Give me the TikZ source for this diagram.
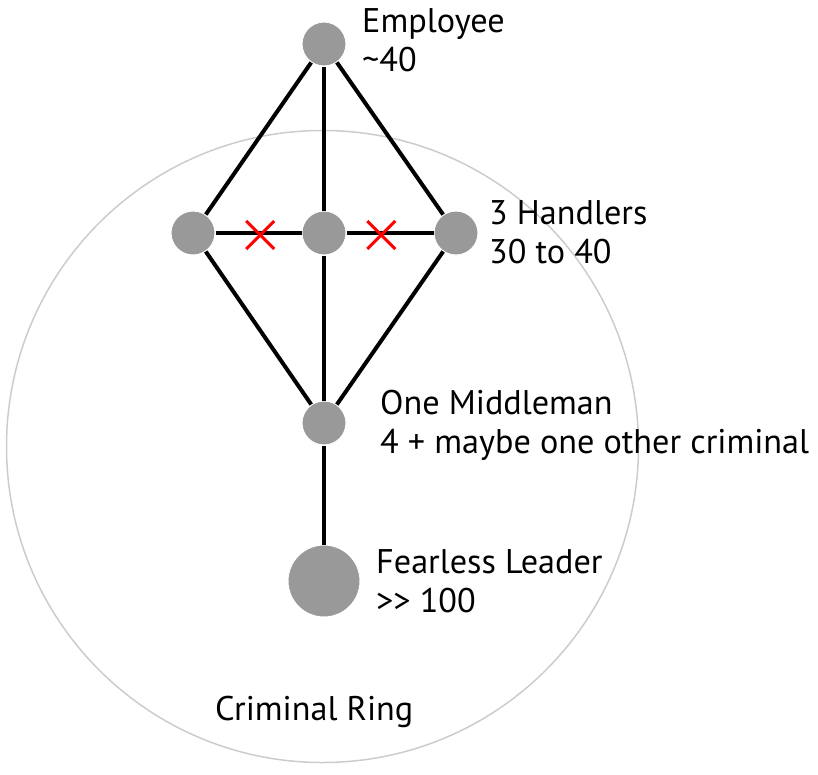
\documentclass[tikz,border=0pt]{standalone}
\usepackage{fontspec}
\setmainfont{PT Sans}
\usepackage{tikz}
\usetikzlibrary{shapes.misc}

\definecolor{nodegray}{HTML}{999999}
\definecolor{ringgray}{HTML}{CCCCCC}

\begin{document}
\begin{tikzpicture}[x=1pt,y=-1pt,
  person/.style={circle,fill=nodegray,draw=white,line width=1pt,inner sep=0pt,minimum size=44pt},
  link/.style={line width=4pt},
  cut/.style={cross out,draw=red,line width=3pt,inner sep=0pt,minimum size=25pt},
  lbl/.style={anchor=base west,align=left,inner sep=0pt,font=\fontsize{34.2}{39}\selectfont}]
  \useasboundingbox (0,0) rectangle (818,774);
  \draw[ringgray,line width=1.5pt] (322.5,446.5) circle [radius=316pt];

  \node[person] (emp) at (324,44) {};
  \node[person] (hand-1) at (193,233) {};
  \node[person] (hand-2) at (324,233) {};
  \node[person] (hand-3) at (456,233) {};
  \node[person] (mid) at (324,423) {};
  \node[person,minimum size=72pt] (lead) at (324,581) {};

  \draw[link] (emp) -- (hand-1);
  \draw[link] (emp) -- (hand-2);
  \draw[link] (emp) -- (hand-3);
  \draw[link] (hand-1) -- node[cut,pos=0.52,yshift=-2pt] {} (hand-2);
  \draw[link] (hand-2) -- node[cut,pos=0.4,yshift=-2pt] {} (hand-3);
  \draw[link] (hand-1) -- (mid);
  \draw[link] (hand-2) -- (mid);
  \draw[link] (hand-3) -- (mid);
  \draw[link] (mid) -- (lead);

  % base anchor sits on the last line
  \node[lbl] (emp-txt) at (362,71) {Employee\\\textasciitilde40};
  \node[lbl] (hand-txt) at (489,263) {3 Handlers\\30 to 40};
  \node[lbl] (mid-txt) at (380,453) {One Middleman\\4 + maybe one other criminal};
  \node[lbl] (lead-txt) at (376,612) {Fearless Leader\\>{}> 100};
  \node[lbl] (ring-txt) at (215,720) {Criminal Ring};
\end{tikzpicture}
\end{document}
